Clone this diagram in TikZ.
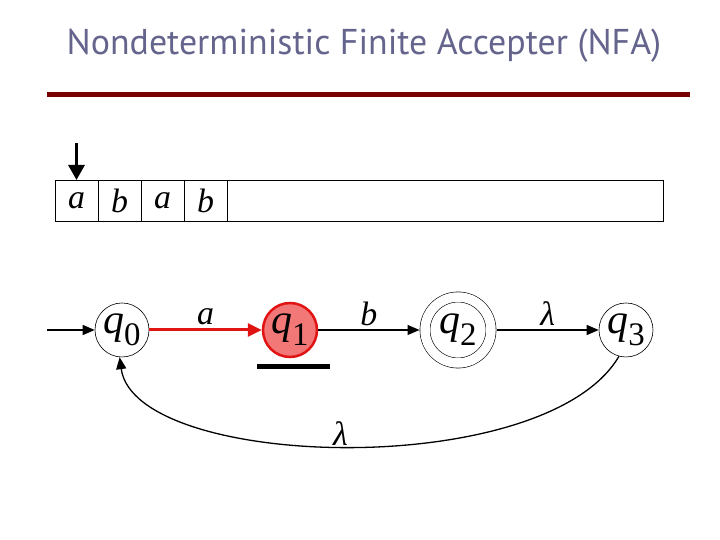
\documentclass[tikz,border=0pt]{standalone}
\usepackage{fontspec}
\setsansfont{PT Sans}
\newfontfamily\symfont{Liberation Serif}
\usetikzlibrary{arrows.meta,positioning}
\definecolor{titlegray}{RGB}{100,100,140}
\definecolor{barred}{RGB}{120,0,0}
\definecolor{statered}{RGB}{225,20,20}
\definecolor{statefill}{RGB}{242,120,120}
\newcommand{\stname}[1]{{\itshape q}\raisebox{-0.28em}{\fontsize{33}{34}\selectfont #1}}
\newcommand{\sym}[1]{{\itshape #1}}
\tikzset{
  stateq/.style={circle, draw=black, line width=0.6bp, minimum size=54bp, inner sep=0pt, font=\symfont\fontsize{42}{44}\selectfont},
  stateacc/.style={stateq, minimum size=66bp, double, double distance=9.5bp, outer sep=5.5bp},
  stateon/.style={stateq, draw=statered, fill=statefill, line width=2.5bp},
  tapecell/.style={rectangle, draw=black, line width=0.6bp, minimum width=43bp, minimum height=41bp, inner sep=0pt, outer sep=0pt, font=\symfont\fontsize{34}{36}\selectfont},
  edgelbl/.style={font=\symfont\fontsize{34}{36}\selectfont, inner sep=2bp},
  flowarrow/.style={-{Triangle[length=12bp, width=10bp]}, line width=1.3bp},
  redarrow/.style={flowarrow, draw=statered, fill=statered, line width=3bp, -{Triangle[length=14bp, width=13bp]}}
}
\begin{document}
\begin{tikzpicture}[x=1bp, y=1bp]
\useasboundingbox (0,0) rectangle (720,540);
% title and bar
\node[text=titlegray, font=\sffamily\fontsize{36}{38}\selectfont] (title) at (364,494) {Nondeterministic Finite Accepter (NFA)};
\draw[barred, line width=5bp] (47,445) -- (690,445);
% input tape
\node[tapecell] (c1) at (76.5,339.5) {\sym{a}};
\node[tapecell, right=0pt of c1] (c2) {\sym{b}};
\node[tapecell, right=0pt of c2] (c3) {\sym{a}};
\node[tapecell, right=0pt of c3] (c4) {\sym{b}};
\node[tapecell, right=0pt of c4, minimum width=436bp] (rest) {};
\coordinate (head) at (76.5,397);
\draw[line width=3bp, -{Triangle[length=15bp, width=16bp]}] (head) -- (c1.north);
% states
\node[stateq] (q0) at (122,210) {\stname{0}};
\node[stateon] (q1) at (290,210) {\stname{1}};
\node[stateacc] (q2) at (458,210) {\stname{2}};
\node[stateq] (q3) at (626,210) {\stname{3}};
\coordinate (start) at (47,210);
\draw[flowarrow] (start) -- (q0);
\draw[redarrow] (q0) -- node[edgelbl, above=2bp, text=black] {\sym{a}} (q1);
\draw[flowarrow] (q1) -- node[edgelbl, above=2bp] {\sym{b}} (q2);
\draw[flowarrow] (q2) -- node[edgelbl, above=2bp] {\sym{λ}} (q3);
\draw[flowarrow] (q3.-105) .. controls (545,58) and (135,70) .. node[edgelbl, above, pos=0.51, inner sep=0pt] {\sym{λ}} (q0.-95);
\draw[line width=5bp] (257,173) -- (330,173);
\end{tikzpicture}
\end{document}
